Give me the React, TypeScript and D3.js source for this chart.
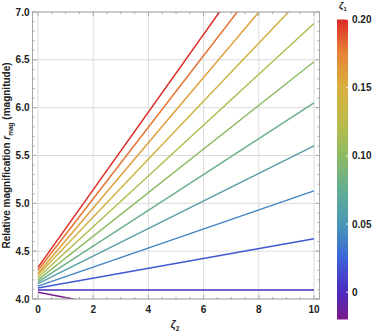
import React from "react";
import * as d3 from "d3";

const zeta1Values = [-0.02, 0, 0.02, 0.04, 0.06, 0.08, 0.1, 0.12, 0.14, 0.16, 0.18, 0.2];
const rAtZeta2Zero = [4.07, 4.095, 4.115, 4.135, 4.16, 4.18, 4.2, 4.225, 4.25, 4.27, 4.3, 4.33];
const rAtZeta2Ten = [3.52, 4.095, 4.63, 5.13, 5.6, 6.05, 6.48, 6.88, 7.28, 7.68, 8.04, 8.39];
const zeta2Samples = [0, 10];

const xTicks = [0, 2, 4, 6, 8, 10];
const yTicks = [4.0, 4.5, 5.0, 5.5, 6.0, 6.5, 7.0];
const cbTicks = [0, 0.05, 0.1, 0.15, 0.2];
const cbTickLabels = ["0", "0.05", "0.10", "0.15", "0.20"];

const colorStops: [number, string][] = [
  [-0.02, "#7a1c8a"],
  [0.0, "#4d2bbf"],
  [0.025, "#3c64d8"],
  [0.05, "#4a98b6"],
  [0.075, "#62ad92"],
  [0.1, "#8dba62"],
  [0.125, "#bcbb4a"],
  [0.15, "#d8b03e"],
  [0.175, "#e78536"],
  [0.2, "#dc2a24"],
];

export default function App() {
  const W = 374, H = 333;
  const L = 32.5, R = 319.5, T = 12, B = 299;
  const x = d3.scaleLinear().domain([-0.2, 10.2]).range([L, R]);
  const y = d3.scaleLinear().domain([4.0, 7.0]).range([B, T]);
  const color = d3
    .scaleLinear<string>()
    .domain(colorStops.map((d) => d[0]))
    .range(colorStops.map((d) => d[1]))
    .interpolate(d3.interpolateRgb);

  const line = d3
    .line<[number, number]>()
    .x((d) => x(d[0]))
    .y((d) => y(d[1]));

  const cbTop = 19.5, cbBot = 319.5, cbL = 337, cbR = 348;
  const cbScale = d3.scaleLinear().domain([-0.02, 0.2]).range([cbBot, cbTop]);

  const xMinor = d3.range(-0.0, 10.01, 0.5).filter((v) => !xTicks.includes(v));
  const yMinor = d3.range(4.0, 7.001, 0.1).map((v) => +v.toFixed(2)).filter((v) => Math.abs((v * 2) - Math.round(v * 2)) > 1e-6);

  const font = "Liberation Sans, Arial, sans-serif";
  const frameColor = "#a6a6a6";
  const gridColor = "#dcdcdc";

  return (
    <svg width={W} height={H} style={{ position: "absolute", left: 0, top: 0 }} fontFamily={font}>
      <defs>
        <clipPath id="plotclip">
          <rect x={L} y={T} width={R - L} height={B - T} />
        </clipPath>
        <linearGradient id="cbgrad" x1="0" y1="1" x2="0" y2="0">
          {colorStops.map(([v, c], i) => (
            <stop key={i} offset={(v + 0.02) / 0.22} stopColor={c} />
          ))}
        </linearGradient>
      </defs>
      <rect width={W} height={H} fill="#fff" />
      {/* grid */}
      {xTicks.map((t) => (
        <line key={"gx" + t} x1={x(t)} x2={x(t)} y1={T} y2={B} stroke={gridColor} strokeWidth={1} />
      ))}
      {yTicks.map((t) => (
        <line key={"gy" + t} x1={L} x2={R} y1={y(t)} y2={y(t)} stroke={gridColor} strokeWidth={1} />
      ))}
      {/* lines */}
      <g clipPath="url(#plotclip)">
        {zeta1Values.map((z, i) => {
          const pts: [number, number][] = zeta2Samples.map((s, k) => [s, k === 0 ? rAtZeta2Zero[i] : rAtZeta2Ten[i]]);
          return <path key={z} d={line(pts) || ""} fill="none" stroke={color(z)} strokeWidth={1.5} />;
        })}
      </g>
      {/* frame */}
      <rect x={L} y={T} width={R - L} height={B - T} fill="none" stroke={frameColor} strokeWidth={1} />
      {/* ticks */}
      {xTicks.map((t) => (
        <g key={"xt" + t}>
          <line x1={x(t)} x2={x(t)} y1={B} y2={B - 4} stroke={frameColor} />
          <line x1={x(t)} x2={x(t)} y1={T} y2={T + 4} stroke={frameColor} />
          <text x={x(t)} y={B + 14} textAnchor="middle" fontSize={10} fontWeight="bold" fill="#222">
            {t}
          </text>
        </g>
      ))}
      {xMinor.map((t) => (
        <g key={"xm" + t}>
          <line x1={x(t)} x2={x(t)} y1={B} y2={B - 2} stroke={frameColor} />
          <line x1={x(t)} x2={x(t)} y1={T} y2={T + 2} stroke={frameColor} />
        </g>
      ))}
      {yTicks.map((t) => (
        <g key={"yt" + t}>
          <line x1={L} x2={L + 4} y1={y(t)} y2={y(t)} stroke={frameColor} />
          <line x1={R} x2={R - 4} y1={y(t)} y2={y(t)} stroke={frameColor} />
          <text x={L - 3} y={y(t) + 3.5} textAnchor="end" fontSize={10} fontWeight="bold" fill="#222">
            {t.toFixed(1)}
          </text>
        </g>
      ))}
      {yMinor.map((t) => (
        <g key={"ym" + t}>
          <line x1={L} x2={L + 2} y1={y(t)} y2={y(t)} stroke={frameColor} />
          <line x1={R} x2={R - 2} y1={y(t)} y2={y(t)} stroke={frameColor} />
        </g>
      ))}
      {/* axis labels */}
      <text transform={`translate(10, ${(T + B) / 2}) rotate(-90)`} textAnchor="middle" fontSize={10} fontWeight="bold" fill="#222">
        Relative magnification <tspan fontStyle="italic">r</tspan>
        <tspan fontSize={6.5} dy={2.5}>mag</tspan>
        <tspan dy={-2.5}> (magnitude)</tspan>
      </text>
      <text x={175} y={328} textAnchor="middle" fontSize={10} fontWeight="bold" fill="#222">
        <tspan fontStyle="italic">ζ</tspan>
        <tspan fontSize={6.5} dy={2.5}>2</tspan>
      </text>
      {/* colorbar */}
      <text x={343} y={9} textAnchor="middle" fontSize={9} fontWeight="bold" fill="#222">
        <tspan fontStyle="italic">ζ</tspan>
        <tspan fontSize={6} dy={2}>1</tspan>
      </text>
      <rect x={cbL} y={cbTop} width={cbR - cbL} height={cbBot - cbTop} fill="url(#cbgrad)" />
      {cbTicks.map((t, i) => (
        <g key={"cb" + t}>
          <line x1={cbR - 2} x2={cbR} y1={cbScale(t)} y2={cbScale(t)} stroke="#eee" />
          <text x={352} y={cbScale(t) + 3.5} fontSize={10} fontWeight="bold" fill="#222">
            {cbTickLabels[i]}
          </text>
        </g>
      ))}
    </svg>
  );
}
